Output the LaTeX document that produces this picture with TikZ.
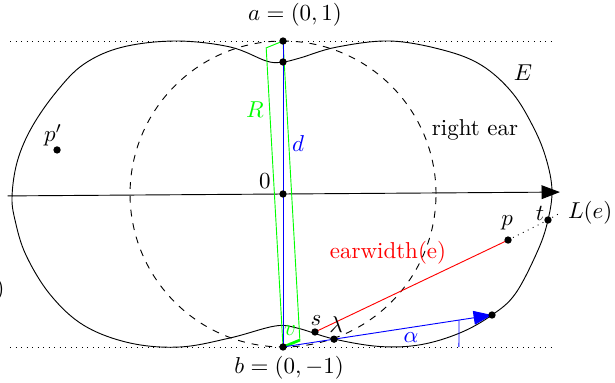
\documentclass[tikz,border=0pt]{standalone}
\usepackage{amsmath}
\usepackage{amssymb}
\usepackage{xcolor}
\usetikzlibrary{arrows.meta, positioning, calc}

\begin{document}
\begin{tikzpicture}[
    x=2.34cm, y=2.34cm,
    dot/.style={
        circle,
        fill=black,
        inner sep=0pt,
        minimum size=3.2pt
    },
    tip/.style={
        -{Triangle[length=8pt, width=6pt]}
    }
]
\useasboundingbox (-1.850,-1.235) rectangle (2.170,1.268);

% points
\coordinate (o) at (0,0);
\coordinate (a) at (0,1);
\coordinate (b) at (0,-1);
\coordinate (dip) at (0,0.863);
\coordinate (pp) at (-1.477,0.288);
\coordinate (p) at (1.471,-0.301);
\coordinate (t) at (1.732,-0.170);
\coordinate (s) at (0.209,-0.902);
\coordinate (q) at (1.366,-0.791);
\coordinate (c) at ($(b)!0.244!(q)$);
\coordinate (bv) at ($(b)+(0.11,0.045)$);
\coordinate (av) at ($(a)-(0.11,0.045)$);
\coordinate (le) at (1.810,-0.124);
\coordinate (axl) at (-1.80,-0.0126);
\coordinate (axr) at (1.81,0.0126);

% the ear curve E
\draw plot[smooth cycle, tension=0.6] coordinates {
    (-1.771,-0.007) (-1.735,0.22) (-1.640,0.44) (-1.48,0.67)
    (-1.30,0.85) (-1.05,0.96) (-0.70,1.0) (-0.346,0.961)
    (-0.105,0.868) (0,0.863) (0.111,0.889) (0.35,0.96)
    (0.70,1.0) (1.05,0.94) (1.30,0.84) (1.50,0.66)
    (1.64,0.43) (1.72,0.23) (1.758,0.026) (1.732,-0.170)
    (1.667,-0.366) (1.52,-0.65) (1.366,-0.791) (1.157,-0.908)
    (0.90,-0.985) (0.634,-0.997) (0.333,-0.948) (0.092,-0.876)
    (-0.052,-0.863) (-0.346,-0.941) (-0.673,-1.0) (-1.0,-0.974)
    (-1.30,-0.86) (-1.52,-0.66) (-1.68,-0.40) (-1.752,-0.170)
};

\draw[dashed] (o) circle (1);
\draw[dotted] (-1.784,1) -- (1.765,1);
\draw[dotted] (-1.784,-1) -- (1.765,-1);
\draw[tip] (axl) -- (axr);

% R and v
\draw[green] (b) -- (bv) -- (a) -- (av) -- cycle;
\draw[green, very thick] (b) -- (bv);

% d and the direction with angle alpha
\draw[blue] (a) -- (b);
\draw[blue, tip] (b) -- (q);
\draw[blue] (1.150,-1) -- ($(b)!0.842!(q)$);

\draw[red] (s) -- (p);
\draw[dotted] (p) -- (t) -- (le);

\foreach \pt in {o, a, b, dip, pp, p, t, s, q, c}
    \node[dot] (\pt dot) at (\pt) {};

% labels
\node (alab) at (0.078,1.170) {$a=(0,1)$};
\node (blab) at (0.039,-1.137) {$b=(0,-1)$};
\node (olab) at (-0.118,0.085) {$0$};
\node (pplab) at (-1.503,0.386) {$p'$};
\node (plab) at (1.465,-0.190) {$p$};
\node (tlab) at (1.680,-0.124) {$t$};
\node[right] (lelab) at (le) {$L(e)$};
\node (slab) at (0.216,-0.824) {$s$};
\node (lamlab) at (0.346,-0.856) {$\lambda$};
\node[green] (vlab) at (0.046,-0.895) {$v$};
\node[blue] (alphalab) at (0.837,-0.941) {$\alpha$};
\node[blue] (dlab) at (0.098,0.333) {$d$};
\node[green] (rlab) at (-0.183,0.549) {$R$};
\node (elab) at (1.569,0.791) {$E$};
\node (earlab) at (1.255,0.418) {right ear};
\node[red] (wlab) at (0.686,-0.386) {earwidth(e)};
\node[anchor=east, inner sep=0pt] (cut) at (-1.817,-0.627) {$)$};

\end{tikzpicture}
\end{document}
